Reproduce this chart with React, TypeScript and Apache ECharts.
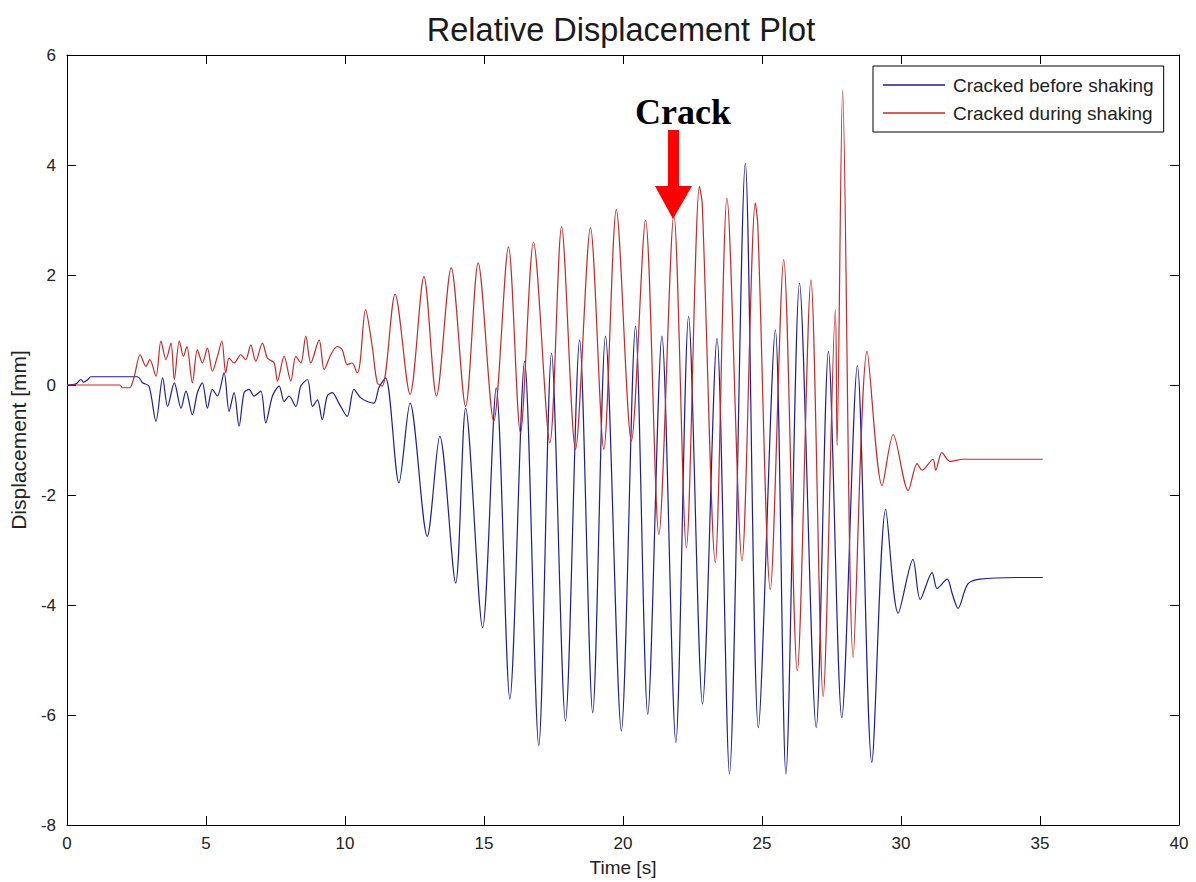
import React, { useEffect, useRef } from "react";
import * as echarts from "echarts";

const TITLE = "Relative Displacement Plot";
const X_NAME = "Time [s]";
const Y_NAME = "Displacement [mm]";
const SERIES_NAMES = ["Cracked before shaking", "Cracked during shaking"];

// Cracked before shaking (blue): time [s], displacement [mm] read at turning points
const beforeT = [0, 0.32, 0.5, 0.6, 0.75, 0.86, 2.54, 2.72, 2.95, 3.2, 3.44, 3.62, 3.86, 4.1, 4.28, 4.51, 4.69, 4.87, 5.05, 5.23, 5.41, 5.65, 5.83, 6.01, 6.19, 6.37, 6.55, 6.73, 6.97, 7.15, 7.39, 7.63, 7.81, 7.99, 8.23, 8.41, 8.65, 8.83, 9.01, 9.18, 9.36, 9.54, 9.78, 10.08, 10.32, 10.56, 10.8, 11.04, 11.22, 11.46, 11.94, 12.34, 12.96, 13.41, 13.98, 14.34, 14.95, 15.44, 15.93, 16.46, 16.97, 17.43, 17.93, 18.44, 18.91, 19.37, 19.94, 20.45, 20.89, 21.4, 21.9, 22.36, 22.86, 23.38, 23.83, 24.4, 24.87, 25.48, 25.86, 26.35, 26.95, 27.39, 27.87, 28.43, 28.95, 29.45, 29.9, 30.43, 30.69, 31.12, 31.3, 31.66, 31.84, 32.05, 32.4, 32.84, 34.17, 35.1];
const beforeV = [0, 0.02, 0.1, 0.05, 0.1, 0.15, 0.15, 0.04, -0.02, -0.66, 0.13, -0.39, 0.04, -0.42, -0.11, -0.54, -0.14, 0.04, -0.42, -0.08, -0.2, 0.22, -0.48, -0.14, -0.75, -0.14, -0.08, -0.2, -0.11, -0.69, -0.2, -0.02, -0.3, -0.2, -0.39, -0.02, 0.1, -0.39, -0.27, -0.63, -0.2, -0.14, -0.33, -0.57, -0.08, -0.23, -0.3, -0.33, -0.05, 0.13, -1.78, -0.33, -2.75, -0.93, -3.6, -0.42, -4.41, -0.05, -5.71, 0.43, -6.56, 0.58, -6.11, 0.82, -5.96, 0.89, -6.29, 1.07, -5.99, 0.89, -6.5, 1.25, -5.8, 0.85, -7.07, 4.03, -6.23, 1.0, -7.07, 1.85, -6.23, 0.61, -6.05, 0.35, -6.86, -2.26, -4.15, -3.17, -3.9, -3.41, -3.7, -3.53, -3.79, -4.06, -3.62, -3.53, -3.5, -3.5];

// Cracked during shaking (red)
const duringT = [0, 1.9, 2.0, 2.25, 2.42, 2.63, 2.84, 2.98, 3.2, 3.38, 3.56, 3.74, 3.86, 4.04, 4.19, 4.31, 4.51, 4.69, 4.87, 5.05, 5.23, 5.41, 5.57, 5.71, 5.83, 6.01, 6.25, 6.43, 6.61, 6.79, 7.03, 7.21, 7.45, 7.57, 7.81, 8.05, 8.23, 8.41, 8.59, 8.77, 9.07, 9.25, 9.49, 9.72, 9.9, 10.08, 10.26, 10.44, 10.54, 10.74, 10.98, 11.16, 11.34, 11.8, 12.34, 12.84, 13.29, 13.82, 14.34, 14.79, 15.35, 15.88, 16.31, 16.78, 17.37, 17.79, 18.29, 18.83, 19.31, 19.76, 20.3, 20.81, 21.29, 21.83, 22.28, 22.75, 22.85, 23.32, 23.74, 24.28, 24.76, 24.85, 25.3, 25.78, 26.27, 26.76, 27.2, 27.64, 27.7, 27.9, 28.28, 28.78, 29.32, 29.72, 30.26, 30.58, 30.76, 31.15, 31.25, 31.47, 31.77, 32.23, 35.1];
const duringV = [0, 0, -0.05, -0.05, 0.16, 0.55, 0.34, 0.46, 0.16, 0.8, 0.46, 0.76, 0.1, 0.8, 0.52, 0.7, 0.04, 0.64, 0.4, 0.67, 0.25, 0.52, 0.8, 0.22, 0.49, 0.4, 0.55, 0.46, 0.73, 0.43, 0.76, 0.49, 0.4, 0.07, 0.52, 0.07, 0.52, 0.4, 0.89, 0.4, 0.82, 0.28, 0.55, 0.7, 0.64, 0.37, 0.4, 0.22, 0.4, 1.37, 0.7, 0.04, -0.02, 1.65, -0.17, 1.97, -0.2, 2.13, -0.39, 2.22, -0.66, 2.51, -0.87, 2.6, -1.05, 2.88, -1.17, 2.86, -1.17, 3.19, -1.02, 3.0, -2.72, 3.1, -2.96, 3.61, 3.3, -3.23, 3.4, -3.2, 3.31, 2.9, -3.72, 2.28, -5.2, 1.91, -5.66, 1.37, -1.1, 5.36, -4.95, 0.61, -1.83, -0.9, -1.92, -1.43, -1.55, -1.35, -1.55, -1.23, -1.39, -1.35, -1.35];

const X_MIN = 0, X_MAX = 40, X_STEP = 5;
const Y_MIN = -8, Y_MAX = 6, Y_STEP = 2;

const BLUE = "#1e1e96";
const RED = "#c82828";
const FONT = "'Liberation Sans', Arial, sans-serif";

const zip = (t: number[], v: number[]) => t.map((x, i) => [x, v[i]]);

export default function App() {
  const ref = useRef<HTMLDivElement>(null);
  useEffect(() => {
    if (!ref.current) return;
    const chart = echarts.init(ref.current, null, { renderer: "svg" });
    const axisBase = {
      type: "value" as const,
      axisLine: { show: true, onZero: false, lineStyle: { color: "#000", width: 1 } },
      axisTick: { show: true, inside: true, length: 9, lineStyle: { color: "#000" } },
      splitLine: { show: false },
    };
    const xLabel = { color: "#222", fontSize: 17, fontFamily: FONT, margin: 10 };
    const yLabel = { color: "#222", fontSize: 17, fontFamily: FONT, margin: 11 };
    chart.setOption({
      animation: false,
      backgroundColor: "#fff",
      title: {
        text: TITLE,
        left: 616,
        textAlign: "center",
        top: 8,
        textStyle: { fontSize: 32.5, fontWeight: "normal", color: "#1a1a1a", fontFamily: FONT },
      },
      grid: { left: 66, top: 55, width: 1113, height: 771, containLabel: false },
      legend: {
        orient: "vertical",
        left: 873,
        top: 66,
        padding: [9, 10, 9, 10],
        itemGap: 8,
        itemWidth: 62,
        itemHeight: 1.5,
        icon: "rect",
        borderColor: "#000",
        borderWidth: 1,
        backgroundColor: "#fff",
        textStyle: { fontSize: 19, lineHeight: 20, color: "#222", fontFamily: FONT, padding: [0, 0, 0, 3] },
        data: SERIES_NAMES,
      },
      xAxis: [
        {
          ...axisBase,
          position: "bottom",
          min: X_MIN, max: X_MAX, interval: X_STEP,
          name: X_NAME,
          nameLocation: "middle",
          nameGap: 33,
          nameTextStyle: { fontSize: 19, color: "#222", fontFamily: FONT },
          axisLabel: xLabel,
        },
        {
          ...axisBase,
          position: "top",
          min: X_MIN, max: X_MAX, interval: X_STEP,
          axisLabel: { show: false },
        },
      ],
      yAxis: [
        {
          ...axisBase,
          position: "left",
          min: Y_MIN, max: Y_MAX, interval: Y_STEP,
          name: Y_NAME,
          nameLocation: "middle",
          nameGap: 38,
          nameRotate: 90,
          nameTextStyle: { fontSize: 21, color: "#222", fontFamily: FONT },
          axisLabel: yLabel,
        },
        {
          ...axisBase,
          position: "right",
          min: Y_MIN, max: Y_MAX, interval: Y_STEP,
          axisLabel: { show: false },
        },
      ],
      series: [
        {
          name: SERIES_NAMES[0],
          type: "line",
          xAxisIndex: 0,
          yAxisIndex: 0,
          data: zip(beforeT, beforeV),
          symbol: "none",
          smooth: 0.3,
          lineStyle: { color: BLUE, width: 1.2 },
          itemStyle: { color: BLUE },
        },
        {
          name: SERIES_NAMES[1],
          type: "line",
          xAxisIndex: 0,
          yAxisIndex: 0,
          data: zip(duringT, duringV),
          symbol: "none",
          smooth: 0.3,
          lineStyle: { color: RED, width: 1.2 },
          itemStyle: { color: RED },
        },
      ],
      graphic: [
        {
          type: "text",
          x: 683,
          y: 112,
          style: {
            text: "Crack",
            fontSize: 36,
            fontWeight: "bold",
            fontFamily: "'Liberation Serif', 'Times New Roman', serif",
            fill: "#000",
            align: "center",
            verticalAlign: "middle",
          },
          z: 100,
        },
        {
          type: "polygon",
          shape: {
            points: [[668, 130], [679, 130], [679, 186], [692, 186], [673, 219], [655, 186], [668, 186]],
          },
          style: { fill: "#ff0000" },
          z: 100,
        },
      ],
    });
    return () => chart.dispose();
  }, []);
  return (
    <div
      ref={ref}
      style={{ position: "absolute", left: 0, top: 0, width: 1196, height: 882, background: "#fff" }}
    />
  );
}
